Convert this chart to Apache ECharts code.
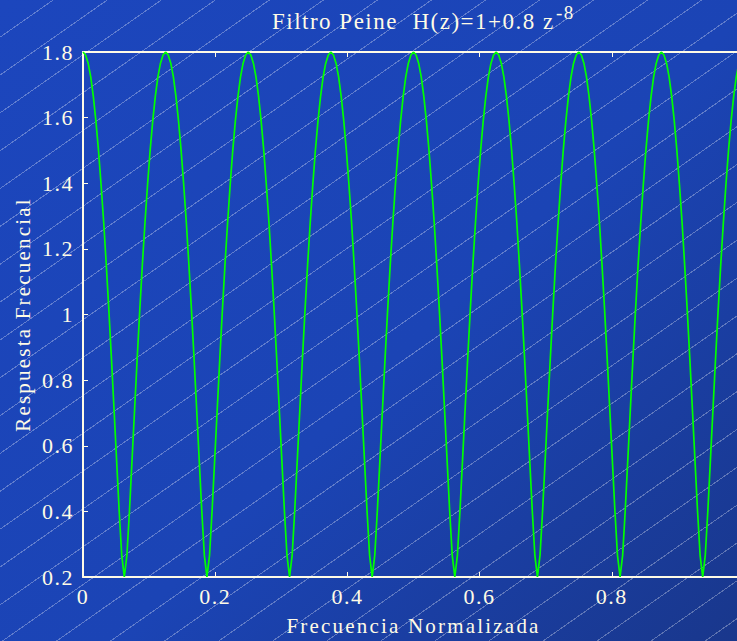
<!DOCTYPE html>
<html>
<head>
<meta charset="utf-8">
<script src="https://cdn.jsdelivr.net/npm/echarts@6/dist/echarts.min.js"></script>
<style>
html,body{margin:0;padding:0;width:737px;height:641px;overflow:hidden;background:#1b43b3;}
#chart{width:737px;height:641px;
background:
 repeating-linear-gradient(145deg, rgba(255,255,255,0) 0px, rgba(255,255,255,0) 30px, rgba(255,255,255,0.3) 30px, rgba(255,255,255,0.3) 31px),
 linear-gradient(135deg, #1c46bd 0%, #1b44b5 55%, #19378c 100%);}
#chart text{letter-spacing:1.5px;}
#chart text[style*="21px"]{letter-spacing:2.2px;}
</style>
</head>
<body>
<div id="chart"></div>
<script>
var freq = [
0,.0039,.0078,.0117,.0156,.0195,.0234,.0273,.0313,.0352,.0391,.043,.0469,.0508,.0547,.0586,.0625,.0664,.0703,.0742,.0781,.082,.0859,.0898,.0938,.0977,.1016,.1055,.1094,.1133,.1172,.1211,
.125,.1289,.1328,.1367,.1406,.1445,.1484,.1523,.1563,.1602,.1641,.168,.1719,.1758,.1797,.1836,.1875,.1914,.1953,.1992,.2031,.207,.2109,.2148,.2188,.2227,.2266,.2305,.2344,.2383,.2422,.2461,
.25,.2539,.2578,.2617,.2656,.2695,.2734,.2773,.2813,.2852,.2891,.293,.2969,.3008,.3047,.3086,.3125,.3164,.3203,.3242,.3281,.332,.3359,.3398,.3438,.3477,.3516,.3555,.3594,.3633,.3672,.3711,
.375,.3789,.3828,.3867,.3906,.3945,.3984,.4023,.4063,.4102,.4141,.418,.4219,.4258,.4297,.4336,.4375,.4414,.4453,.4492,.4531,.457,.4609,.4648,.4688,.4727,.4766,.4805,.4844,.4883,.4922,.4961,
.5,.5039,.5078,.5117,.5156,.5195,.5234,.5273,.5313,.5352,.5391,.543,.5469,.5508,.5547,.5586,.5625,.5664,.5703,.5742,.5781,.582,.5859,.5898,.5938,.5977,.6016,.6055,.6094,.6133,.6172,.6211,
.625,.6289,.6328,.6367,.6406,.6445,.6484,.6523,.6563,.6602,.6641,.668,.6719,.6758,.6797,.6836,.6875,.6914,.6953,.6992,.7031,.707,.7109,.7148,.7188,.7227,.7266,.7305,.7344,.7383,.7422,.7461,
.75,.7539,.7578,.7617,.7656,.7695,.7734,.7773,.7813,.7852,.7891,.793,.7969,.8008,.8047,.8086,.8125,.8164,.8203,.8242,.8281,.832,.8359,.8398,.8438,.8477,.8516,.8555,.8594,.8633,.8672,.8711,
.875,.8789,.8828,.8867,.8906,.8945,.8984,.9023,.9063,.9102,.9141,.918,.9219,.9258,.9297,.9336,.9375,.9414,.9453,.9492,.9531,.957,.9609,.9648,.9688,.9727,.9766,.9805,.9844,.9883,.9922,.9961,
1];
var response = [
1.8,1.791,1.766,1.724,1.665,1.590,1.501,1.397,1.281,1.152,1.014,0.867,0.713,0.557,0.402,0.266,0.2,0.266,0.402,0.557,0.713,0.867,1.014,1.152,1.281,1.397,1.501,1.590,1.665,1.724,1.766,1.791,
1.8,1.791,1.766,1.724,1.665,1.590,1.501,1.397,1.281,1.152,1.014,0.867,0.713,0.557,0.402,0.266,0.2,0.266,0.402,0.557,0.713,0.867,1.014,1.152,1.281,1.397,1.501,1.590,1.665,1.724,1.766,1.791,
1.8,1.791,1.766,1.724,1.665,1.590,1.501,1.397,1.281,1.152,1.014,0.867,0.713,0.557,0.402,0.266,0.2,0.266,0.402,0.557,0.713,0.867,1.014,1.152,1.281,1.397,1.501,1.590,1.665,1.724,1.766,1.791,
1.8,1.791,1.766,1.724,1.665,1.590,1.501,1.397,1.281,1.152,1.014,0.867,0.713,0.557,0.402,0.266,0.2,0.266,0.402,0.557,0.713,0.867,1.014,1.152,1.281,1.397,1.501,1.590,1.665,1.724,1.766,1.791,
1.8,1.791,1.766,1.724,1.665,1.590,1.501,1.397,1.281,1.152,1.014,0.867,0.713,0.557,0.402,0.266,0.2,0.266,0.402,0.557,0.713,0.867,1.014,1.152,1.281,1.397,1.501,1.590,1.665,1.724,1.766,1.791,
1.8,1.791,1.766,1.724,1.665,1.590,1.501,1.397,1.281,1.152,1.014,0.867,0.713,0.557,0.402,0.266,0.2,0.266,0.402,0.557,0.713,0.867,1.014,1.152,1.281,1.397,1.501,1.590,1.665,1.724,1.766,1.791,
1.8,1.791,1.766,1.724,1.665,1.590,1.501,1.397,1.281,1.152,1.014,0.867,0.713,0.557,0.402,0.266,0.2,0.266,0.402,0.557,0.713,0.867,1.014,1.152,1.281,1.397,1.501,1.590,1.665,1.724,1.766,1.791,
1.8,1.791,1.766,1.724,1.665,1.590,1.501,1.397,1.281,1.152,1.014,0.867,0.713,0.557,0.402,0.266,0.2,0.266,0.402,0.557,0.713,0.867,1.014,1.152,1.281,1.397,1.501,1.590,1.665,1.724,1.766,1.791,
1.8];
var titleMain = 'Filtro Peine  H(z)=1+0.8 z';
var titleSup = '-8';
var xName = 'Frecuencia Normalizada';
var yName = 'Respuesta Frecuencial';

var txt = '#fffbe6';
var font = "'Liberation Serif', 'Times New Roman', serif";
var pts = freq.map(function(f, i){ return [f, response[i]]; });

var chart = echarts.init(document.getElementById('chart'), null, {renderer:'svg'});
chart.setOption({
  backgroundColor: 'transparent',
  animation: false,
  title: {
    text: titleMain, left: 272, top: 10, padding: 0,
    textStyle: {color: txt, fontFamily: font, fontSize: 23, fontWeight: 'normal'}
  },
  graphic: [{
    type: 'text', left: 556, top: 3,
    style: {text: titleSup, fill: txt, font: "19px 'Liberation Serif', serif"}
  }],
  grid: {left: 83, top: 52, width: 661, height: 525, containLabel: false, outerBoundsMode: 'none'},
  xAxis: [{
    type: 'value', min: 0, max: 1, interval: 0.2, position: 'bottom',
    name: xName, nameLocation: 'middle', nameGap: 38,
    nameTextStyle: {color: txt, fontFamily: font, fontSize: 21},
    axisLine: {show: true, lineStyle: {color: txt, width: 2}},
    axisTick: {show: true, inside: true, length: 5, lineStyle: {color: txt, width: 1}},
    axisLabel: {color: txt, fontFamily: font, fontSize: 22, margin: 8, showMaxLabel: false},
    splitLine: {show: false}
  },{
    type: 'value', min: 0, max: 1, interval: 0.2, position: 'top',
    axisLine: {show: true, lineStyle: {color: txt, width: 2}},
    axisTick: {show: true, inside: true, length: 5, lineStyle: {color: txt, width: 1}},
    axisLabel: {show: false}, splitLine: {show: false}
  }],
  yAxis: {
    type: 'value', min: 0.2, max: 1.8, interval: 0.2,
    name: yName, nameLocation: 'middle', nameGap: 50, nameRotate: 90,
    nameTextStyle: {color: txt, fontFamily: font, fontSize: 21},
    axisLine: {show: true, lineStyle: {color: txt, width: 2}},
    axisTick: {show: true, inside: true, length: 5, lineStyle: {color: txt, width: 1}},
    axisLabel: {color: txt, fontFamily: font, fontSize: 22, margin: 9},
    splitLine: {show: false}
  },
  series: [{
    type: 'line', data: pts, showSymbol: false, symbol: 'none',
    lineStyle: {color: '#00ff00', width: 1.7}, clip: true
  }]
});
</script>
</body>
</html>
